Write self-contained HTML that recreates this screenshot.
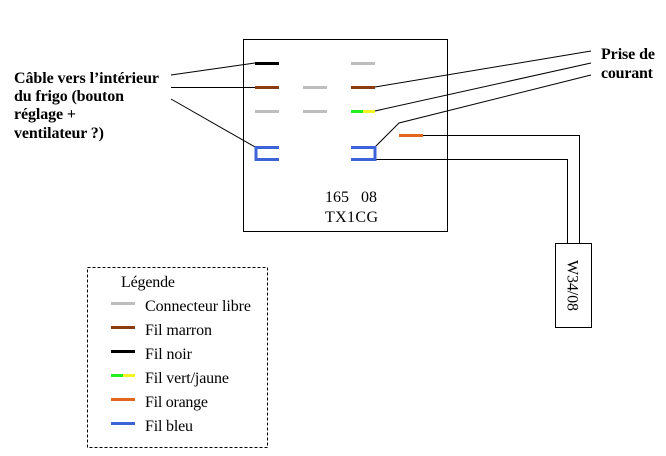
<!DOCTYPE html>
<html>
<head>
<meta charset="utf-8">
<style>
html,body{margin:0;padding:0;background:#fff;width:666px;height:456px;overflow:hidden}
svg{display:block}
text{font-family:"Liberation Serif",serif;font-size:16px;fill:#000}
.b{font-weight:bold;font-size:16px}
.w{stroke-width:3;fill:none}
.l{stroke:#000;stroke-width:1;fill:none}
</style>
</head>
<body>
<svg width="666" height="456" viewBox="0 0 666 456" xmlns="http://www.w3.org/2000/svg">
<rect x="243.5" y="39.5" width="204" height="192" fill="#fff" stroke="#000"/>

<g class="l">
<path class="l" d="M171 75L255 63"/>
<path class="l" d="M171 87.5H255"/>
<path class="l" d="M171 99L255 147"/>
<path class="l" d="M375 87L591 51"/>
<path class="l" d="M375 111L591 63"/>
<path class="l" d="M375 147L399 123L591 75"/>
<path class="l" d="M423 135.500H579.500V243"/>
<path class="l" d="M375 159.500H567.500V243"/>
</g>

<g class="w">
<path d="M255 63.500H279" stroke="#000"/>
<path d="M255 87.500H279" stroke="#8b3a12"/>
<path d="M303 87.500H327" stroke="#bdbdbd"/>
<path d="M255 111.500H279" stroke="#bdbdbd"/>
<path d="M303 111.500H327" stroke="#bdbdbd"/>
<path d="M351 63.500H375" stroke="#bdbdbd"/>
<path d="M351 87.500H375" stroke="#8b3a12"/>
<path d="M351 111.500H363" stroke="#22ee22"/>
<path d="M363 111.500H375" stroke="#f4f422"/>
<path d="M399 135.500H423" stroke="#e2661c"/>
<path d="M279 147.500H256V159.500H279" stroke="#3c64d8"/>
<path d="M351 147.500H375V159.500H351" stroke="#3c64d8"/>
</g>

<text class="b" x="14" y="83" textLength="145">Câble vers l’intérieur</text>
<text class="b" x="14" y="101" textLength="110">du frigo (bouton</text>
<text class="b" x="14" y="119" textLength="62">réglage +</text>
<text class="b" x="14" y="138" textLength="90">ventilateur ?)</text>
<text class="b" x="601" y="59" textLength="54">Prise de</text>
<text class="b" x="601" y="78" textLength="52">courant</text>

<text x="325" y="202" textLength="24">165</text>
<text x="361" y="202" textLength="16">08</text>
<text x="325" y="222" textLength="53">TX1CG</text>

<rect x="555.500" y="243.500" width="36" height="84" fill="#fff" stroke="#000"/>
<text transform="translate(567.500,260) rotate(90)" x="0" y="0" textLength="51">W34/08</text>

<rect x="87.500" y="267.500" width="180" height="180" fill="#fff" stroke="#000" stroke-dasharray="3 2"/>
<text x="121" y="287" textLength="54">Légende</text>
<g class="w">
<path d="M111 303.500H135" stroke="#bdbdbd"/>
<path d="M111 327.500H135" stroke="#8b3a12"/>
<path d="M111 351.500H135" stroke="#000"/>
<path d="M111 375.500H123" stroke="#22ee22"/>
<path d="M123 375.500H135" stroke="#f4f422"/>
<path d="M111 399.500H135" stroke="#e2661c"/>
<path d="M111 423.500H135" stroke="#3c64d8"/>
</g>
<text x="145" y="311" textLength="106">Connecteur libre</text>
<text x="145" y="335" textLength="67">Fil marron</text>
<text x="145" y="359" textLength="47">Fil noir</text>
<text x="145" y="383" textLength="84">Fil vert/jaune</text>
<text x="145" y="407" textLength="63">Fil orange</text>
<text x="145" y="431" textLength="48">Fil bleu</text>
</svg>
</body>
</html>
